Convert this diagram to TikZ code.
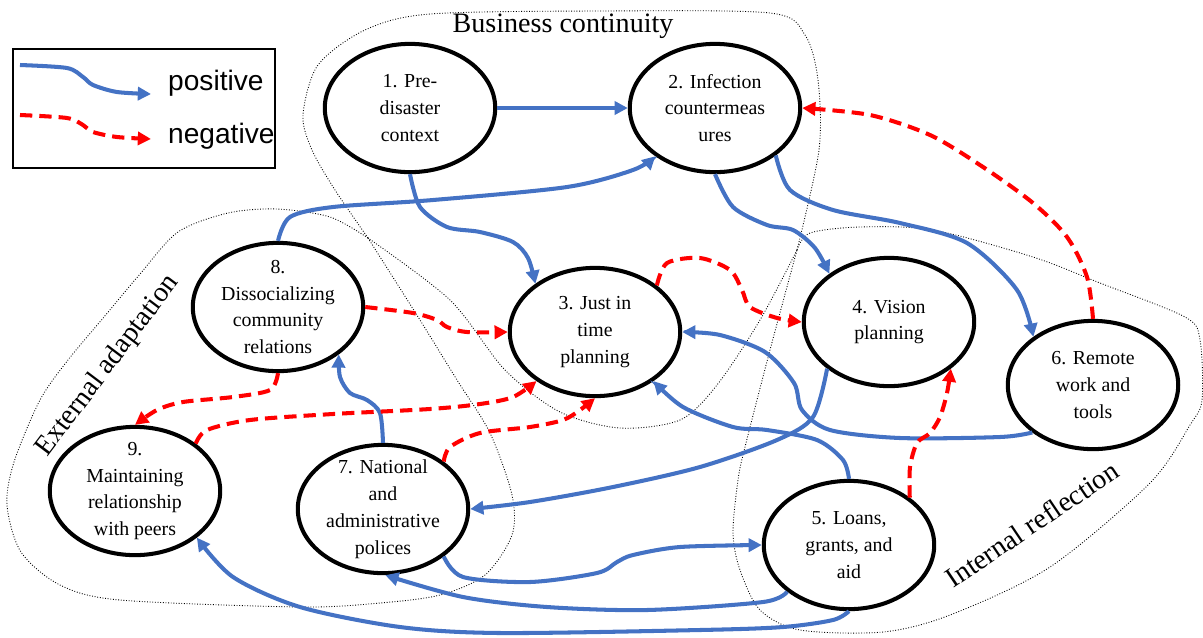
\documentclass[tikz,border=0pt]{standalone}
\usepackage{fontspec}
\setmainfont{Liberation Serif}
\newfontfamily\legendfont{Liberation Sans}
\usepackage{tikz}
\usetikzlibrary{arrows.meta,shapes.geometric}

\definecolor{posblue}{RGB}{68,114,196}
\definecolor{negred}{RGB}{255,0,0}

\begin{document}
\begin{tikzpicture}[
  x=0.02cm, y=-0.02cm,
  factor/.style={ellipse, draw, line width=2.3pt, fill=white, minimum width=97pt, minimum height=73pt,
    inner xsep=0pt, inner ysep=-5pt, font=\fontsize{11.3}{15.3}\selectfont},
  positive/.style={-{Triangle[length=7.5pt,width=7.5pt]}, posblue, line width=2.3pt},
  negative/.style={-{Triangle[length=7.5pt,width=7.5pt]}, negred, line width=2.3pt, dash pattern=on 7pt off 4pt},
  region/.style={draw, line width=0.5pt, dash pattern=on 0.5pt off 1pt},
  regionlabel/.style={font=\fontsize{16}{19}\selectfont},
  legendtext/.style={font=\legendfont\fontsize{16}{19}\selectfont},
  every node/.style={align=center}]

\useasboundingbox (0,0) rectangle (1203,637);

% Dotted outlines of the three groups (they cross at Q and P)
\coordinate (Q) at (368,238);
\coordinate (P) at (797,250);
\draw[region] plot[smooth] coordinates {(Q) (335,190) (312,150) (303,115) (318,65) (365,30) (430,14) (600,11)
  (770,13) (805,35) (818,80) (819,150) (P)};
\draw[region] plot[smooth] coordinates {(P) (760,320) (717,385) (680,420) (620,428) (560,412) (505,370) (450,300) (Q)};
\draw[region] plot[smooth] coordinates {(Q) (330,217) (277,209) (228,213) (178,232) (140,274) (104,317) (68,360)
  (40,400) (14,462) (7,505) (21,552) (60,585) (120,600) (300,607) (380,603) (440,595) (485,575) (512,535)
  (512,495) (490,433) (457,380) (420,320) (Q)};
\draw[region] plot[smooth] coordinates {(P) (810,233) (860,227) (933,230) (1033,257) (1100,283) (1185,317)
  (1200,340) (1202,400) (1190,425) (1150,483) (1050,567) (950,615) (883,632) (800,630) (760,610) (740,570)
  (733,533) (738,480) (745,447) (770,350) (P)};

\node[regionlabel] (businessLabel) at (563,26) {Business continuity};
\node[regionlabel, rotate=53] (externalLabel) at (108,366) {External adaptation};
\node[regionlabel, rotate=34] (internalLabel) at (1032,524) {Internal reflection};

% Legend
\draw[line width=0.6pt] (13,49) rectangle (275,168);
\coordinate (posStart) at (20,65);
\coordinate (posEnd) at (151,94);
\coordinate (negStart) at (20,115);
\coordinate (negEnd) at (151,139);
\node[legendtext, anchor=base west] (posLabel) at (162,90) {positive};
\node[legendtext, anchor=base west] (negLabel) at (162,143) {negative};
\draw[positive] plot[smooth] coordinates {(posStart) (67,68) (83,77) (93,85) (117,92) (posEnd)};
\draw[negative] plot[smooth] coordinates {(negStart) (67,118) (83,125) (93,132) (117,137) (negEnd)};

% Position the factors
\node[factor] (preDisaster) at (410,108) {1. Pre-\\disaster\\context};
\node[factor] (infection) at (715,108) {2. Infection\\countermeas\\ures};
\node[factor] (justInTime) at (595,332) {3. Just in\\time\\planning};
\node[factor] (vision) at (889,322) {4. Vision\\planning};
\node[factor] (loans) at (849,545) {5. Loans,\\grants, and\\aid};
\node[factor] (remoteWork) at (1093,385) {6. Remote\\work and\\tools};
\node[factor] (nationalPolices) at (383,509) {7. National\\and\\administrative\\polices};
\node[factor] (dissocializing) at (278,307) {8.\\Dissocializing\\community\\relations};
\node[factor] (maintaining) at (135,491) {9.\\Maintaining\\relationship\\with peers};

% Positive links
\draw[positive] (preDisaster.east) -- (infection.west);
\draw[positive] plot[smooth] coordinates {(preDisaster.south) (420,207) (447,227) (480,232) (513,242) (528,258) (justInTime.141)};
\draw[positive] plot[smooth] coordinates {(dissocializing.north) (290,217) (333,207) (433,200) (567,187) (633,170) (infection.219)};
\draw[positive] plot[smooth] coordinates {(infection.south) (733,207) (767,225) (793,230) (815,248) (vision.141)};
\draw[positive] plot[smooth] coordinates {(infection.322) (790,190) (833,210) (900,223) (967,243) (1017,290) (remoteWork.141)};
\draw[positive] plot[smooth] coordinates {(remoteWork.218) (1000,437) (900,438) (830,430) (802,410) (794,383) (765,352) (720,335) (justInTime.east)};
\draw[positive] plot[smooth] coordinates {(loans.north) (843,460) (817,440) (767,430) (733,427) (683,407) (justInTime.320)};
\draw[positive] plot[smooth] coordinates {(vision.217) (813,417) (777,440) (700,467) (613,487) (530,502) (nationalPolices.east)};
\draw[positive] plot[smooth] coordinates {(nationalPolices.322) (463,577) (530,582) (597,573) (617,562) (633,555) (680,547) (loans.west)};
\draw[positive] plot[smooth] coordinates {(loans.217) (763,602) (647,610) (547,607) (463,597) (nationalPolices.272)};
\draw[positive] plot[smooth] coordinates {(loans.south) (833,620) (783,627) (700,630) (500,633) (400,627) (300,607) (233,577) (maintaining.323)};
\draw[positive] plot[smooth] coordinates {(nationalPolices.north) (380,413) (367,400) (350,393) (340,377) (dissocializing.322)};

% Negative links
\draw[negative] plot[smooth] coordinates {(dissocializing.east) (413,313) (437,320) (447,327) (467,332) (justInTime.west)};
\draw[negative] plot[smooth] coordinates {(justInTime.37) (667,263) (700,258) (730,270) (742,290) (750,307) (777,318) (vision.west)};
\draw[negative] plot[smooth] coordinates {(remoteWork.north) (1087,277) (1067,237) (1033,203) (983,167) (930,135) (870,115) (infection.east)};
\draw[negative] plot[smooth] coordinates {(loans.38) (910,467) (917,443) (930,433) (940,417) (947,393) (vision.323)};
\draw[negative] plot[smooth] coordinates {(nationalPolices.38) (450,447) (480,433) (530,427) (563,420) (580,410) (justInTime.south)};
\draw[negative] plot[smooth] coordinates {(maintaining.38) (207,430) (250,420) (333,414) (430,409) (480,404) (513,397) (justInTime.220)};
\draw[negative] plot[smooth] coordinates {(dissocializing.south) (270,390) (233,397) (183,402) (157,410) (maintaining.north)};

\end{tikzpicture}
\end{document}
